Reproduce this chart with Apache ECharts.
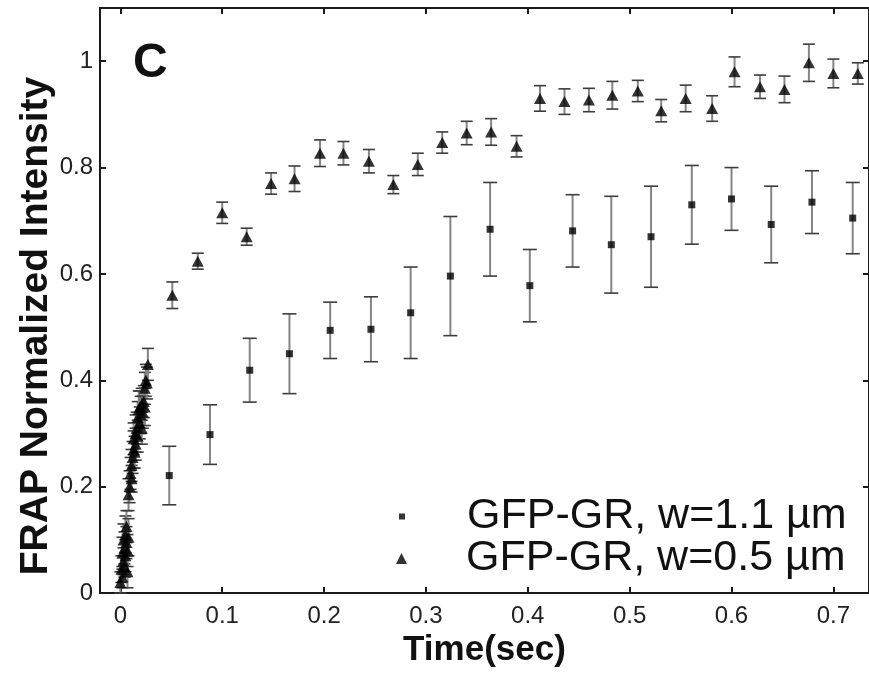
<!DOCTYPE html>
<html>
<head>
<meta charset="utf-8">
<script src="https://cdn.jsdelivr.net/npm/echarts@6/dist/echarts.min.js"></script>
<style>
  html, body { margin: 0; padding: 0; background: #fff; }
  #chart { width: 869px; height: 673px; }
</style>
</head>
<body>
<div id="chart"></div>
<script>
// FRAP recovery, panel C
var xTicks = [0, 0.1, 0.2, 0.3, 0.4, 0.5, 0.6, 0.7];
var yTicks = [0, 0.2, 0.4, 0.6, 0.8, 1];

var nameLarge = 'GFP-GR, w=1.1 \u00b5m';
var nameSmall = 'GFP-GR, w=0.5 \u00b5m';

// w=1.1 um (squares)
var timeLarge = [0.048, 0.088, 0.127, 0.166, 0.206, 0.246, 0.285, 0.324, 0.363, 0.402, 0.444, 0.482, 0.521, 0.561, 0.600, 0.639, 0.679, 0.719];
var valLarge  = [0.221, 0.298, 0.419, 0.450, 0.494, 0.496, 0.527, 0.596, 0.684, 0.578, 0.681, 0.655, 0.670, 0.730, 0.741, 0.693, 0.735, 0.705];
var errLarge  = [0.055, 0.056, 0.060, 0.075, 0.053, 0.061, 0.086, 0.112, 0.088, 0.068, 0.068, 0.091, 0.095, 0.074, 0.059, 0.072, 0.059, 0.067];

// w=0.5 um (triangles) - fast early frames
var timeFast = [0.000, 0.001, 0.002, 0.002, 0.003, 0.003, 0.004, 0.004, 0.005, 0.005, 0.006, 0.006, 0.007, 0.007, 0.008,
                0.008, 0.009, 0.010, 0.011, 0.011, 0.012, 0.013, 0.013, 0.014, 0.015, 0.015, 0.016, 0.017, 0.017, 0.018,
                0.019, 0.019, 0.020, 0.021, 0.021, 0.022, 0.023, 0.024, 0.024, 0.025, 0.026, 0.027];
var valFast  = [0.020, 0.045, 0.030, 0.075, 0.060, 0.100, 0.085, 0.050, 0.110, 0.070, 0.095, 0.125, 0.080, 0.040, 0.105,
                0.185, 0.200, 0.225, 0.240, 0.215, 0.255, 0.270, 0.290, 0.265, 0.300, 0.280, 0.310, 0.330, 0.295, 0.345,
                0.320, 0.350, 0.335, 0.355, 0.310, 0.340, 0.360, 0.350, 0.385, 0.400, 0.395, 0.430];
var errFast  = [0.020, 0.025, 0.020, 0.030, 0.025, 0.030, 0.030, 0.020, 0.035, 0.030, 0.030, 0.030, 0.030, 0.030, 0.035,
                0.030, 0.030, 0.030, 0.030, 0.025, 0.030, 0.035, 0.030, 0.030, 0.035, 0.030, 0.030, 0.030, 0.030, 0.035,
                0.030, 0.030, 0.035, 0.030, 0.030, 0.030, 0.030, 0.035, 0.030, 0.030, 0.030, 0.030];

// w=0.5 um (triangles) - later frames
var timeSmall = [0.051, 0.076, 0.100, 0.124, 0.148, 0.171, 0.196, 0.219, 0.244, 0.268, 0.292, 0.316, 0.340, 0.364, 0.389,
                 0.412, 0.436, 0.460, 0.483, 0.508, 0.531, 0.555, 0.581, 0.603, 0.628, 0.652, 0.676, 0.700, 0.724];
var valSmall  = [0.560, 0.624, 0.715, 0.670, 0.770, 0.779, 0.827, 0.827, 0.812, 0.768, 0.806, 0.847, 0.865, 0.867, 0.840,
                 0.930, 0.924, 0.927, 0.936, 0.944, 0.907, 0.930, 0.911, 0.980, 0.952, 0.947, 0.997, 0.977, 0.977];
var errSmall  = [0.025, 0.015, 0.020, 0.016, 0.020, 0.024, 0.025, 0.022, 0.022, 0.017, 0.021, 0.020, 0.022, 0.025, 0.020,
                 0.024, 0.024, 0.022, 0.026, 0.020, 0.021, 0.025, 0.024, 0.028, 0.022, 0.025, 0.035, 0.027, 0.020];

var font = "'Liberation Sans', Arial, Helvetica, sans-serif";
var axisColor = '#1a1a1a';

var triTime = timeFast.concat(timeSmall);
var triVal = valFast.concat(valSmall);
var triErr = errFast.concat(errSmall);

function points(t, v) {
  return t.map(function (x, i) { return [x, v[i]]; });
}
function bars(t, v, e) {
  return t.map(function (x, i) { return [x, v[i] - e[i], v[i] + e[i]]; });
}

// error bars: grey stem, darker caps
function errorBar(capHalf) {
  return function (params, api) {
    var x = api.value(0);
    var top = api.coord([x, api.value(2)]);
    var bot = api.coord([x, api.value(1)]);
    var capStyle = { stroke: '#3c3c3c', lineWidth: 1.6 };
    return {
      type: 'group',
      children: [
        { type: 'line', shape: { x1: top[0], y1: top[1], x2: bot[0], y2: bot[1] }, style: { stroke: '#858585', lineWidth: 2 } },
        { type: 'line', shape: { x1: top[0] - capHalf, y1: top[1], x2: top[0] + capHalf, y2: top[1] }, style: capStyle },
        { type: 'line', shape: { x1: bot[0] - capHalf, y1: bot[1], x2: bot[0] + capHalf, y2: bot[1] }, style: capStyle }
      ]
    };
  };
}

var chart = echarts.init(document.getElementById('chart'));

var axisBase = {
  type: 'value',
  axisLine: { show: true, onZero: false, lineStyle: { color: axisColor, width: 2 } },
  axisTick: { show: true, inside: true, length: 6, lineStyle: { color: axisColor, width: 2 } },
  splitLine: { show: false }
};

var option = {
  animation: false,
  backgroundColor: '#fff',
  grid: { left: 100, top: 8, width: 773, height: 588 },
  xAxis: [
    Object.assign({}, axisBase, {
      position: 'bottom', min: -0.02, max: 0.735,
      axisTick: Object.assign({}, axisBase.axisTick, { customValues: xTicks }),
      axisLabel: { customValues: xTicks, margin: 11, fontSize: 24, color: '#222', fontFamily: font },
      name: 'Time(sec)', nameLocation: 'middle', nameGap: 36,
      nameTextStyle: { fontSize: 35, fontWeight: 'bold', color: '#111', fontFamily: font }
    }),
    Object.assign({}, axisBase, {
      position: 'top', min: -0.02, max: 0.735,
      axisTick: Object.assign({}, axisBase.axisTick, { customValues: xTicks }),
      axisLabel: { show: false }
    })
  ],
  yAxis: [
    Object.assign({}, axisBase, {
      position: 'left', min: 0, max: 1.1,
      axisTick: Object.assign({}, axisBase.axisTick, { customValues: yTicks }),
      axisLabel: { customValues: yTicks, margin: 7, fontSize: 24, color: '#222', fontFamily: font }
    }),
    Object.assign({}, axisBase, {
      position: 'right', min: 0, max: 1.1,
      axisTick: Object.assign({}, axisBase.axisTick, { customValues: yTicks }),
      axisLabel: { show: false }
    })
  ],
  legend: [
    {
      data: [{ name: nameLarge, icon: 'rect' }],
      left: 394, top: 490, itemWidth: 6, itemHeight: 6,
      textStyle: { fontSize: 43, color: '#111', fontFamily: font, padding: [0, 0, 0, 57] }
    },
    {
      data: [{ name: nameSmall, icon: 'triangle' }],
      left: 391, top: 532, itemWidth: 11, itemHeight: 11,
      textStyle: { fontSize: 43, color: '#111', fontFamily: font, padding: [0, 0, 0, 54] }
    }
  ],
  graphic: [
    { type: 'text', left: 133, top: 40, style: { text: 'C', font: 'bold 48px ' + font, fill: '#111' } },
    {
      type: 'text', x: 36, y: 326, rotation: Math.PI / 2,
      style: { text: 'FRAP Normalized Intensity', font: 'bold 39px ' + font, fill: '#111', align: 'center', verticalAlign: 'middle' }
    }
  ],
  series: [
    {
      name: nameLarge + ' err', type: 'custom', renderItem: errorBar(7),
      encode: { x: 0, y: [1, 2] }, data: bars(timeLarge, valLarge, errLarge), z: 1
    },
    {
      name: nameSmall + ' err', type: 'custom', renderItem: errorBar(6),
      encode: { x: 0, y: [1, 2] }, data: bars(triTime, triVal, triErr), z: 1
    },
    {
      name: nameLarge, type: 'scatter', symbol: 'rect', symbolSize: 7,
      itemStyle: { color: '#000' }, data: points(timeLarge, valLarge), z: 3
    },
    {
      name: nameSmall, type: 'scatter', symbol: 'triangle', symbolSize: [12, 11],
      itemStyle: { color: '#000' }, data: points(triTime, triVal), z: 3
    }
  ]
};

chart.setOption(option);
</script>
</body>
</html>
